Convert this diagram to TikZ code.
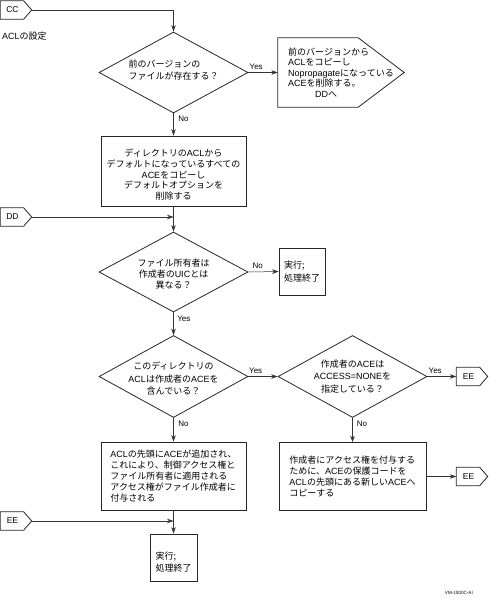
\documentclass[tikz,border=0pt]{standalone}
\usepackage{fontspec}
\setmainfont{Noto Sans CJK JP}
\newfontfamily\lat{Liberation Sans}
\usetikzlibrary{arrows.meta,shapes.geometric}
\newcommand\la[1]{{\lat #1}}
\newcommand\tagoutline[1]{\draw[shapeline] (#1.north west) -- ([xshift=-8pt]#1.north east) -- (#1.east) -- ([xshift=-8pt]#1.south east) -- (#1.south west) -- cycle;}
\tikzset{
 shapeline/.style={draw=black!85, line width=0.8pt},
 boxnode/.style={shapeline, rectangle, inner sep=0pt, align=center, font=\fontsize{9}{10.8}\selectfont},
 dianode/.style={shapeline, diamond, inner sep=-20pt, align=center, font=\fontsize{9}{12}\selectfont},
 pentnode/.style={rectangle, inner sep=0pt, align=left, font=\fontsize{9}{10.5}\selectfont},
 tagnode/.style={rectangle, inner sep=0pt, minimum width=31pt, minimum height=18pt, font=\lat\fontsize{8.5}{10}\selectfont},
 arr/.style={draw=black!80, line width=0.5pt, -{Stealth[length=6.5pt,width=4.5pt]}},
 lbl/.style={inner sep=0pt, font=\lat\fontsize{8}{9}\selectfont},
 plain/.style={inner sep=0pt, font=\fontsize{9}{10.8}\selectfont},
}
\begin{document}
\begin{tikzpicture}[x=1pt,y=-1pt]
\useasboundingbox (0,0) rectangle (488,600);

% entry tag CC
\node[tagnode] (cc) at (16,10) {CC\hspace*{7pt}};
\tagoutline{cc}
\node[plain, anchor=west] (title) at (2,36) {\la{ACL}の設定};

% decision 1
\node[dianode, minimum width=149pt, minimum height=81pt] (d1) at (173.5,72.5)
  {前のバージョンの\hspace*{18pt}\\ファイルが存在する？\rule[-5pt]{0pt}{5pt}};

% pentagon
\node[pentnode, minimum width=126pt, minimum height=69pt] (p1) at (341,72.5)
  {前のバージョンから\\\la{ACL}をコピーし\\\la{Nopropagate}になっている\\\la{ACE}を削除する。\\\hspace*{27pt}\la{DD}へ};
\draw[shapeline] (p1.north west) -- ([xshift=-46pt]p1.north east) -- (p1.east) -- ([xshift=-46pt]p1.south east) -- (p1.south west) -- cycle;

% box 1
\node[boxnode, minimum width=145pt, minimum height=70pt] (b1) at (173.5,171)
  {\rule{0pt}{15pt}ディレクトリの\la{ACL}から\\デフォルトになっているすべての\\\la{ACE}をコピーし\\デフォルトオプションを\\削除する};

% entry tag DD
\node[tagnode] (dd) at (16,217) {DD\hspace*{7pt}};
\tagoutline{dd}

% decision 2
\node[dianode, minimum width=149pt, minimum height=80pt, font=\fontsize{9}{11}\selectfont] (d2) at (173.5,272)
  {\rule{0pt}{12pt}ファイル所有者は\\作成者の\la{UIC}とは\\異なる？};

% box 2
\node[boxnode, align=left, minimum width=46pt, minimum height=47pt, font=\fontsize{9}{12.5}\selectfont] (b2) at (302,271.5)
  {実行;\\処理終了};

% decision 3
\node[dianode, minimum width=149pt, minimum height=82pt, font=\fontsize{9}{12.5}\selectfont] (d3) at (173.5,376.5)
  {\rule{0pt}{12pt}このディレクトリの\\\la{ACL}は作成者の\la{ACE}を\\含んでいる？};

% decision 4
\node[dianode, minimum width=149pt, minimum height=82pt, font=\fontsize{9}{12.5}\selectfont] (d4) at (352.5,376.5)
  {作成者の\la{ACE}は\\\la{ACCESS=NONE}を\\指定している？};

% exit tag EE 1
\node[tagnode] (ee1) at (472,376.5) {EE\hspace*{7pt}};
\tagoutline{ee1}

% box 3
\node[boxnode, align=left, minimum width=145pt, minimum height=68pt] (b3) at (173.5,476)
  {\la{ACL}の先頭に\la{ACE}が追加され、\\これにより、制御アクセス権と\\ファイル所有者に適用される\\アクセス権がファイル作成者に\\付与される};

% box 4
\node[boxnode, align=left, minimum width=147pt, minimum height=68pt] (b4) at (352.5,476.5)
  {作成者にアクセス権を付与する\\ために、\la{ACE}の保護コードを\\\la{ACL}の先頭にある新しい\la{ACE}へ\\コピーする};

% exit tag EE 2
\node[tagnode] (ee2) at (472,476.5) {EE\hspace*{7pt}};
\tagoutline{ee2}

% entry tag EE 3
\node[tagnode] (ee3) at (16,521) {EE\hspace*{7pt}};
\tagoutline{ee3}

% box 5
\node[boxnode, align=left, minimum width=47pt, minimum height=47pt, font=\fontsize{9}{12.5}\selectfont] (b5) at (173.5,557.5)
  {\rule{0pt}{17pt}実行;\\処理終了};

\node[anchor=east, inner sep=0pt, font=\lat\fontsize{4.6}{5.5}\selectfont] (vm) at (473,593) {VM-1000C-AI};

% connectors
\draw[arr] (cc.east) -| (d1.north);
\draw[arr] (d1.east) -- node[lbl, pos=0, anchor=base west, xshift=1pt, yshift=3pt] (l1) {Yes} (p1.west);
\draw[arr] (d1.south) -- node[lbl, pos=0, anchor=base west, xshift=4.5pt, yshift=-8pt] (l2) {No} (b1.north);
\draw[arr] (b1.south) -- (d2.north);
\draw[arr] (dd.east) -- (dd.east -| b1.south);
\draw[arr] (d2.east) -- node[lbl, pos=0, anchor=base west, xshift=4pt, yshift=4pt] (l3) {No} (b2.west);
\draw[arr] (d2.south) -- node[lbl, pos=0, anchor=base west, xshift=3.5pt, yshift=-9pt] (l4) {Yes} (d3.north);
\draw[arr] (d3.east) -- node[lbl, pos=0, anchor=base west, xshift=0.5pt, yshift=3.5pt] (l5) {Yes} (d4.west);
\draw[arr] (d4.east) -- node[lbl, pos=0, anchor=base west, xshift=1pt, yshift=3.5pt] (l6) {Yes} (ee1.west);
\draw[arr] (d3.south) -- node[lbl, pos=0, anchor=base west, xshift=4.5pt, yshift=-8.5pt] (l7) {No} (b3.north);
\draw[arr] (d4.south) -- node[lbl, pos=0, anchor=base west, xshift=4pt, yshift=-8.5pt] (l8) {No} (b4.north);
\draw[arr] (b4.east) -- (ee2.west);
\draw[arr] (b3.south) -- (b5.north);
\draw[arr] (ee3.east) -- (ee3.east -| b3.south);
\end{tikzpicture}
\end{document}
